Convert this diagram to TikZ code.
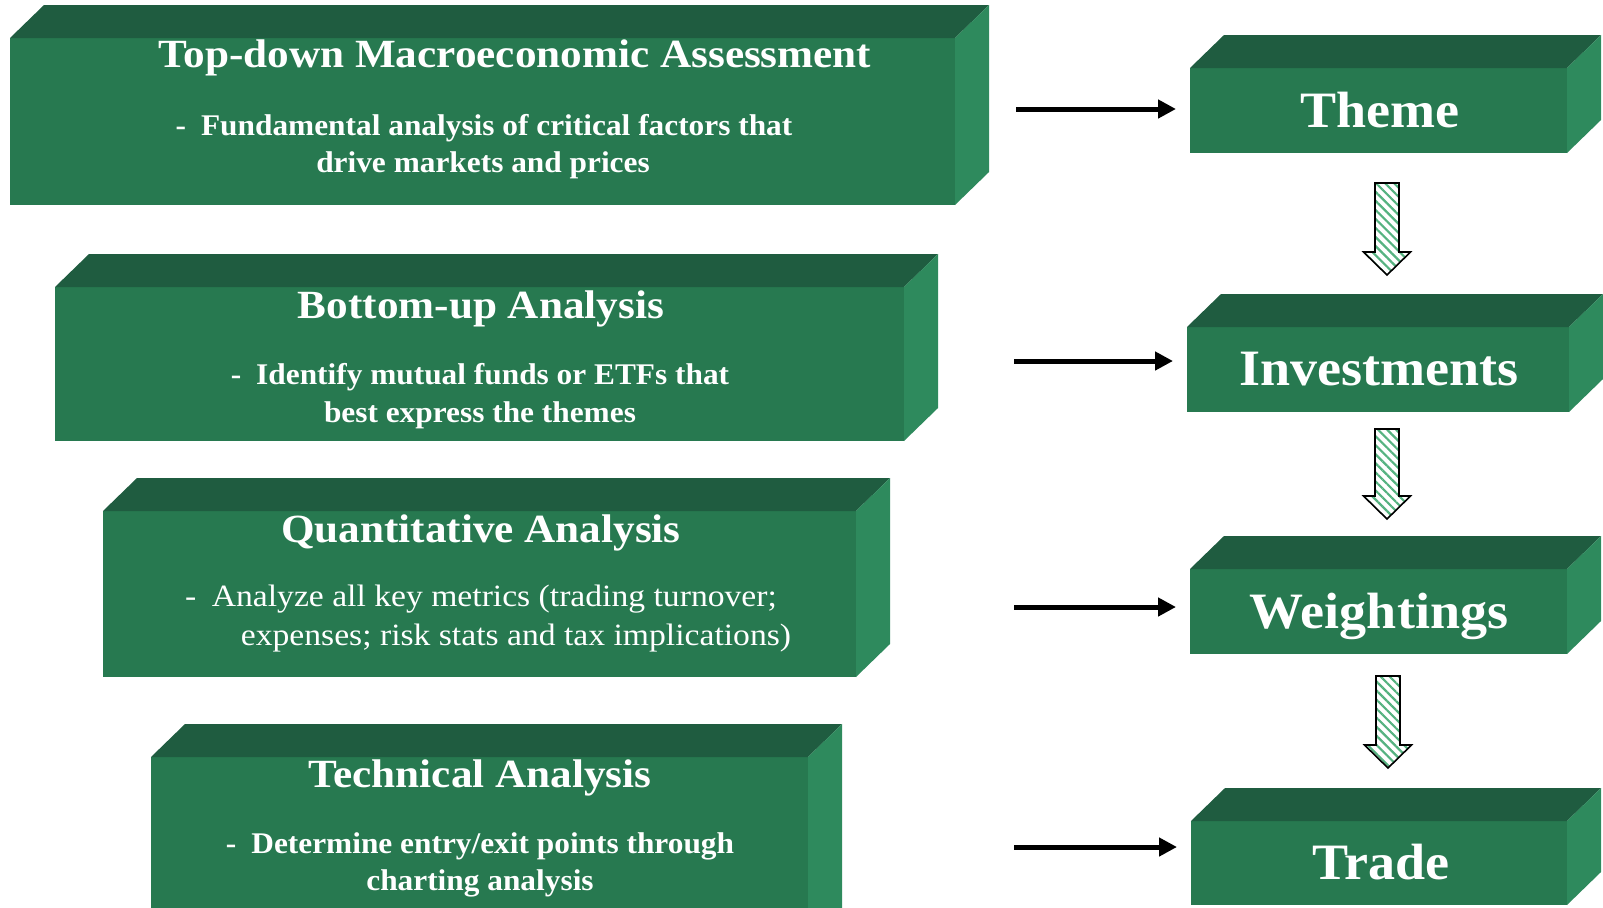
\documentclass[tikz,border=0pt]{standalone}
\usepackage{fontspec}
\setmainfont{Liberation Serif}
\newfontfamily\ttlfont[FakeStretch=1.08]{Liberation Serif}
\newfontfamily\descfont[FakeStretch=1.045]{Liberation Serif}
\newfontfamily\qfont[FakeStretch=1.085]{Liberation Serif}
\newfontfamily\bigfont[FakeStretch=1.06]{Liberation Serif}
\usetikzlibrary{calc,arrows.meta,patterns.meta}
\definecolor{frontc}{RGB}{39,121,80}
\definecolor{topc}{RGB}{31,92,64}
\definecolor{sidec}{RGB}{46,138,93}
\definecolor{hatchc}{RGB}{85,178,128}
\tikzset{
  front/.style={rectangle,fill=frontc,inner sep=0pt,outer sep=0pt},
  topface/.style={fill=topc},
  sideface/.style={fill=sidec},
  ttl/.style={anchor=base,text=white,inner sep=0pt,font=\ttlfont\fontsize{20pt}{24pt}\selectfont\bfseries},
  desc/.style={anchor=base,text=white,inner sep=0pt,font=\descfont\fontsize{15pt}{18pt}\selectfont\bfseries},
  qdesc/.style={anchor=base,text=white,inner sep=0pt,font=\qfont\fontsize{15.5pt}{18pt}\selectfont},
  big/.style={anchor=base,text=white,inner sep=0pt,font=\bigfont\fontsize{25.5pt}{30pt}\selectfont\bfseries},
  harrow/.style={line width=2.5pt,-{Triangle[length=9pt,width=9pt]},shorten >=7pt},
  blockarrow/.style={draw=black,line width=0.8pt,line join=miter,
    pattern={Lines[angle=-45,distance=3.2pt,line width=1.1pt]},pattern color=hatchc},
}
\newcommand\gbox[4]{% name, center, width(pt), height(pt)
  \node[front,minimum width=#3,minimum height=#4] (#1) at (#2) {};
  \fill[topface] (#1.north west) -- ++(34,-33) -- ($(#1.north east)+(34,-33)$) -- (#1.north east) -- cycle;
  \fill[sideface] (#1.north east) -- ++(34,-33) -- ($(#1.south east)+(34,-33)$) -- (#1.south east) -- cycle;
}
\newcommand\dnarrow[2]{%
  \draw[blockarrow] ($(#1)+(-12,0)$) -- ($(#1)+(12,0)$) -- ($(#2)+(12,-23)$) -- ($(#2)+(23.5,-23)$)
    -- (#2) -- ($(#2)+(-23.5,-23)$) -- ($(#2)+(-12,-23)$) -- cycle;}
\begin{document}
\begin{tikzpicture}[x=0.5pt,y=-0.5pt]
\useasboundingbox (0,0) rectangle (1603,907);
\clip (0,0) rectangle (1603,907);
% left boxes
\gbox{b1}{482.5,121.5}{472.5pt}{83.5pt}
\gbox{b2}{479.5,364}{424.5pt}{77pt}
\gbox{b3}{479.5,594}{376.5pt}{83pt}
\gbox{b4}{479.5,857}{328.5pt}{100pt}
% right boxes
\gbox{theme}{1378.5,110.5}{188.5pt}{42.5pt}
\gbox{inv}{1378,369.5}{191pt}{42.5pt}
\gbox{wgt}{1378.5,611.5}{188.5pt}{42.5pt}
\gbox{trade}{1379,863}{188pt}{42pt}
% texts
\node[ttl] (t1) at (515,67) {Top-down Macroeconomic Assessment};
\node[desc] (d1a) at (484,135) {-\enspace Fundamental analysis of critical factors that};
\node[desc] (d1b) at (483,172) {drive markets and prices};
\node[ttl] (t2) at (481,318) {Bottom-up Analysis};
\node[desc] (d2a) at (480,384) {-\enspace Identify mutual funds or ETFs that};
\node[desc] (d2b) at (480,422) {best express the themes};
\node[ttl] (t3) at (481,542) {Quantitative Analysis};
\node[qdesc] (d3a) at (481,606) {-\enspace Analyze all key metrics (trading turnover;};
\node[qdesc] (d3b) at (516,645) {expenses; risk stats and tax implications)};
\node[ttl] (t4) at (480,787) {Technical Analysis};
\node[desc] (d4a) at (480,853) {-\enspace Determine entry/exit points through};
\node[desc] (d4b) at (480,890) {charting analysis};
\node[big] (l1) at (1380,127) {Theme};
\node[big] (l2) at (1379,385) {Investments};
\node[big] (l3) at (1379,628) {Weightings};
\node[big] (l4) at (1381,879) {Trade};
% horizontal arrows
\coordinate (h1) at (1016,109);
\coordinate (h2) at (1014,361);
\coordinate (h3) at (1014,607);
\coordinate (h4) at (1014,847);
\draw[harrow] (h1) -- (h1 -| theme.west);
\draw[harrow] (h2) -- (h2 -| inv.west);
\draw[harrow] (h3) -- (h3 -| wgt.west);
\draw[harrow] (h4) -- (h4 -| trade.west);
% block arrows
\coordinate (s1) at (1387,183); \coordinate (e1) at (1387,275);
\coordinate (s2) at (1387,429); \coordinate (e2) at (1387,519);
\coordinate (s3) at (1388,676); \coordinate (e3) at (1388,768);
\dnarrow{s1}{e1}
\dnarrow{s2}{e2}
\dnarrow{s3}{e3}
\end{tikzpicture}
\end{document}
